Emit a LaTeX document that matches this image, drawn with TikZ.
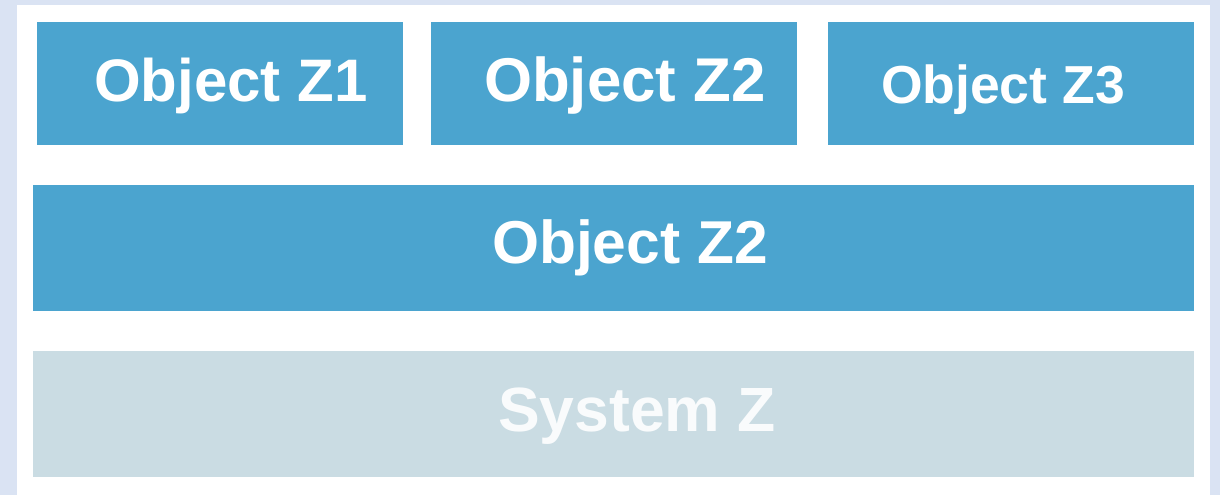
\documentclass[tikz,border=0pt]{standalone}
\usepackage{fontspec}
\setmainfont{Liberation Sans}
\definecolor{bgblue}{HTML}{DAE3F3}
\definecolor{boxblue}{HTML}{4BA4CF}
\definecolor{boxgrey}{HTML}{CADCE3}
\definecolor{softwhite}{HTML}{F9FBFC}
\begin{document}
\begin{tikzpicture}[x=1pt,y=-1pt,
  blk/.style={inner sep=0pt, outer sep=0pt, anchor=north west},
  lbl/.style={inner sep=0pt, outer sep=0pt, anchor=base west, text=white, font=\bfseries}]
\fill[bgblue] (0,0) rectangle (1220,495);
\fill[white] (17,5) rectangle (1210,495);
\useasboundingbox (0,0) rectangle (1220,495);
\node[blk, fill=boxblue, minimum width=366pt, minimum height=123pt] (b1) at (37,22) {};
\node[blk, fill=boxblue, minimum width=366pt, minimum height=123pt] (b2) at (431,22) {};
\node[blk, fill=boxblue, minimum width=366pt, minimum height=123pt] (b3) at (828,22) {};
\node[blk, fill=boxblue, minimum width=1161pt, minimum height=126pt] (b4) at (33,185) {};
\node[blk, fill=boxgrey, minimum width=1161pt, minimum height=126pt] (b5) at (33,351) {};
\node[lbl, font=\fontsize{60}{70}\selectfont\bfseries] (t1) at (94,101) {Object Z1};
\node[lbl, font=\fontsize{61.8}{70}\selectfont\bfseries] (t2) at (484,101) {Object Z2};
\node[lbl, font=\fontsize{53.5}{64}\selectfont\bfseries] (t3) at (881,103) {Object Z3};
\node[lbl, font=\fontsize{60.5}{70}\selectfont\bfseries] (t4) at (492,263) {Object Z2};
\node[lbl, text=softwhite, font=\fontsize{62.5}{72}\selectfont\bfseries] (t5) at (498,431) {System Z};
\end{tikzpicture}
\end{document}
